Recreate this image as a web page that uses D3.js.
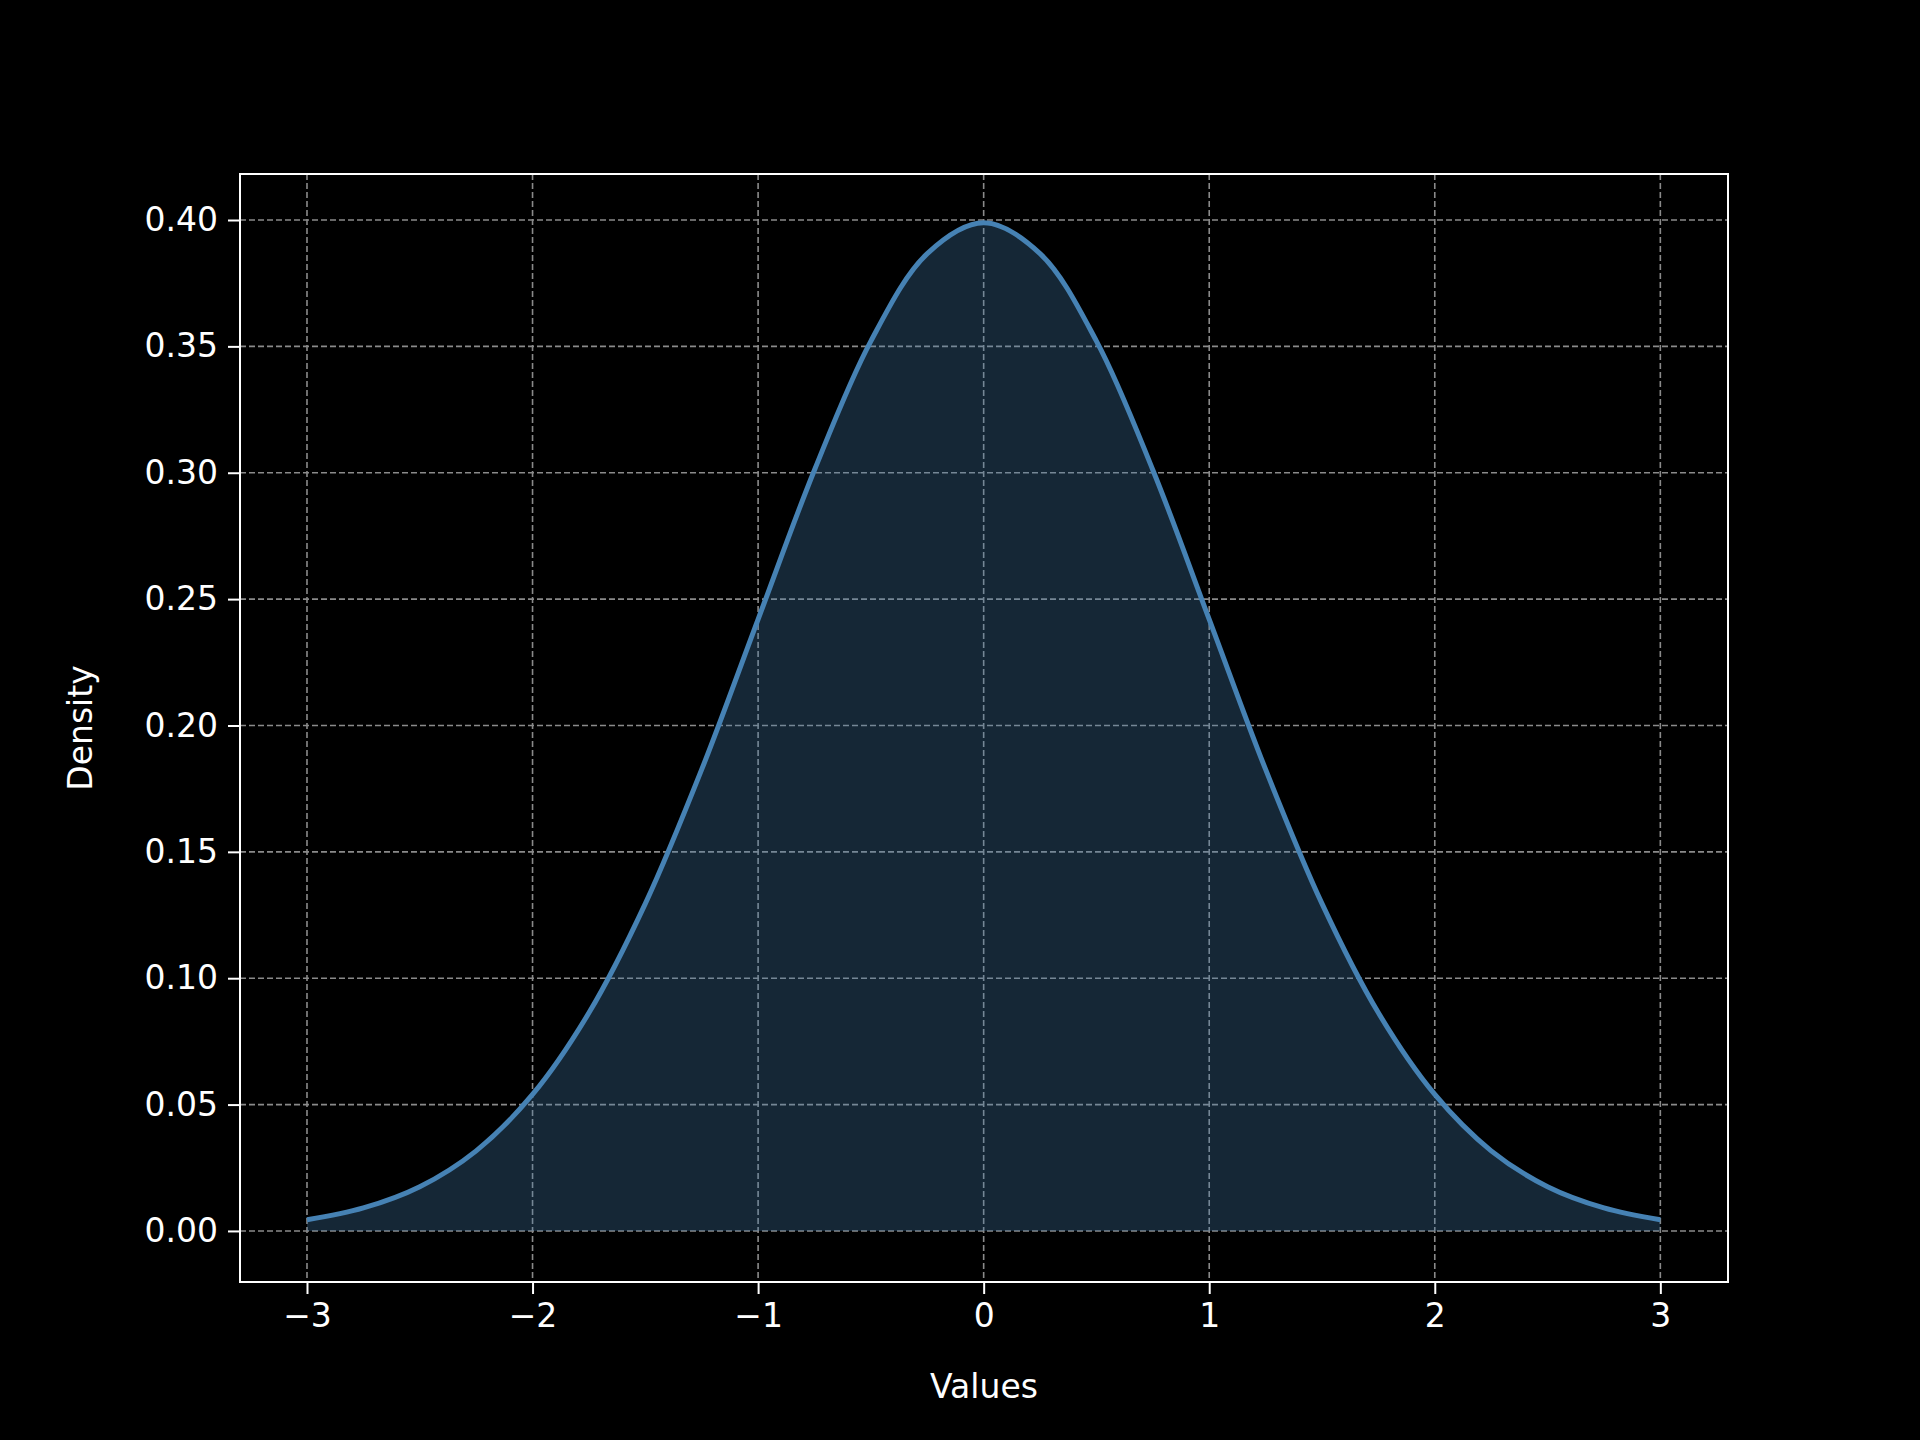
<!DOCTYPE html>
<html><head><meta charset="utf-8">
<script src="https://cdn.jsdelivr.net/npm/d3@7"></script>
<style>body{margin:0;background:#000}text{font-family:"DejaVu Sans",sans-serif}</style>
</head><body><svg id="chart" width="1920" height="1440"></svg>
<script>
const xs = [-3,-2.75,-2.5,-2.25,-2,-1.75,-1.5,-1.25,-1,-0.75,-0.5,-0.25,0,0.25,0.5,0.75,1,1.25,1.5,1.75,2,2.25,2.5,2.75,3]
const density = [0.0044,0.0091,0.0175,0.0317,0.054,0.0863,0.1295,0.1826,0.242,0.3011,0.3521,0.3867,0.3989,0.3867,0.3521,0.3011,0.242,0.1826,0.1295,0.0863,0.054,0.0317,0.0175,0.0091,0.0044]
const xTicks = [-3,-2,-1,0,1,2,3]
const yTicks = [0,0.05,0.1,0.15,0.2,0.25,0.3,0.35,0.4]

const L = 240, R = 1728, T = 174, B = 1282
const svg = d3.select('#chart')
const x = d3.scaleLinear().domain([-3.297, 3.3]).range([L, R])
const y = d3.scaleLinear().domain([-0.0202, 0.4182]).range([B, T])
const pts = xs.map((v, i) => [v, density[i]])

//grid
svg.append('g').selectAll('line').data(xTicks).enter().append('line')
  .attr('x1', d => x(d)).attr('x2', d => x(d)).attr('y1', T).attr('y2', B)
  .attr('stroke', '#8a8a8a').attr('stroke-width', 1.6).attr('stroke-dasharray', '6,3')
svg.append('g').selectAll('line').data(yTicks).enter().append('line')
  .attr('y1', d => y(d)).attr('y2', d => y(d)).attr('x1', L).attr('x2', R)
  .attr('stroke', '#8a8a8a').attr('stroke-width', 1.6).attr('stroke-dasharray', '6,3')

//fill + line
svg.append('path').datum(pts)
  .attr('d', d3.area().x(d => x(d[0])).y0(y(0)).y1(d => y(d[1])).curve(d3.curveCatmullRom))
  .attr('fill', '#4682b4').attr('fill-opacity', 0.3)
svg.append('path').datum(pts)
  .attr('d', d3.line().x(d => x(d[0])).y(d => y(d[1])).curve(d3.curveCatmullRom))
  .attr('fill', 'none').attr('stroke', '#4682b4').attr('stroke-width', 5)

//axes
const xa = svg.append('g').attr('transform', `translate(0,${B})`)
  .call(d3.axisBottom(x).tickValues(xTicks).tickSize(12).tickPadding(10).tickFormat(d => d < 0 ? '\u2212' + Math.abs(d) : d))
const ya = svg.append('g').attr('transform', `translate(${L},0)`)
  .call(d3.axisLeft(y).tickValues(yTicks).tickSize(12).tickPadding(10).tickFormat(d3.format('.2f')))
for (const a of [xa, ya]) {
  a.select('.domain').remove()
  a.selectAll('line').attr('stroke', '#fff').attr('stroke-width', 2)
  a.selectAll('text').attr('fill', '#fff').style('font-size', '33px')
}
svg.append('rect').attr('x', L).attr('y', T).attr('width', R - L).attr('height', B - T)
  .attr('fill', 'none').attr('stroke', '#fff').attr('stroke-width', 2)

svg.append('text').attr('x', (L + R) / 2).attr('y', 1398).attr('text-anchor', 'middle')
  .attr('fill', '#fff').style('font-size', '33px').text('Values')
svg.append('text').attr('transform', `translate(92,${(T + B) / 2}) rotate(-90)`).attr('text-anchor', 'middle')
  .attr('fill', '#fff').style('font-size', '33px').text('Density')
</script></body></html>
